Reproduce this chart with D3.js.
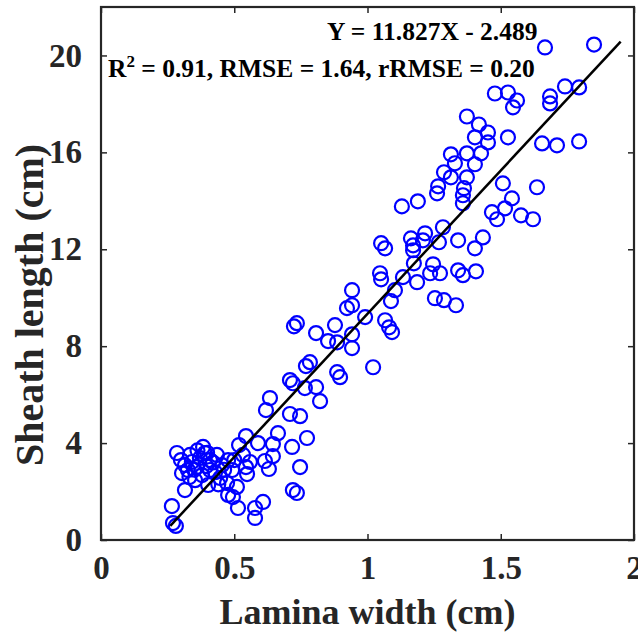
<!DOCTYPE html>
<html><head><meta charset="utf-8">
<script src="https://cdn.jsdelivr.net/npm/d3@7"></script>
<style>
html,body{margin:0;padding:0;background:#fff;}
text{font-family:"Liberation Serif","Times New Roman",serif;font-weight:bold;}
</style></head>
<body>
<svg id="chart" width="638" height="637"></svg>
<script>
// Lamina width (cm)
const laminaWidth = [
1.666,1.850,1.478,1.527,1.561,1.546,1.685,1.685,1.741,1.794,
1.373,1.418,1.452,1.403,1.452,1.527,1.655,1.711,1.794,1.313,
1.373,1.426,1.328,1.403,1.287,1.313,1.373,1.265,1.261,1.362,
1.358,1.358,1.129,1.189,1.508,1.636,1.542,1.516,1.467,1.486,
1.576,1.621,1.283,1.216,1.208,1.163,1.171,1.171,1.051,1.066,
1.268,1.340,1.433,1.403,1.174,1.246,1.235,1.272,1.340,1.358,
1.407,1.133,1.186,1.047,1.051,1.103,1.088,1.253,1.287,1.332,
1.066,1.081,1.092,0.991,0.942,0.923,0.942,0.735,0.724,0.807,
0.878,0.852,0.886,0.942,0.942,1.021,0.784,0.769,0.886,0.897,
0.709,0.720,0.765,0.807,0.634,0.822,0.619,0.709,0.747,0.664,
0.773,0.717,0.645,0.589,0.544,0.518,0.615,0.645,0.630,0.747,
0.544,0.548,0.720,0.735,0.285,0.383,0.390,0.435,0.315,0.341,
0.360,0.304,0.379,0.409,0.353,0.402,0.447,0.492,0.473,0.510,
0.315,0.266,0.270,0.281,0.477,0.495,0.514,0.578,0.608,0.578,
0.334,0.409,0.454,0.428,0.326,0.371,0.533,0.559,0.477,
0.300,0.362,0.420,0.462,0.398,0.332,0.440,0.500,0.350,0.395
];
// Sheath length (cm)
const sheathLength = [
20.33,20.45,18.43,18.47,18.14,17.86,18.31,18.02,18.72,18.68,
17.48,17.15,16.82,16.62,16.41,16.62,16.37,16.29,16.45,15.92,
15.96,15.96,15.55,15.51,15.18,14.97,14.97,14.60,14.31,14.52,
14.23,13.90,13.77,13.98,14.72,14.56,14.10,13.69,13.53,13.24,
13.40,13.24,12.91,12.66,12.37,12.45,12.16,11.96,12.25,12.04,
12.29,12.37,12.49,12.04,11.42,11.38,11.01,11.01,11.13,10.93,
11.09,10.85,10.64,11.01,10.76,10.31,9.86,9.98,9.90,9.69,
9.07,8.78,8.58,9.20,10.31,9.57,9.69,8.95,8.82,8.54,
8.87,8.21,8.16,8.49,7.92,7.13,7.34,7.18,6.93,6.72,
6.60,6.47,6.27,6.31,5.86,5.73,5.36,5.20,5.11,4.41,
4.21,3.84,3.96,4.00,4.29,3.92,3.26,3.46,2.93,3.01,
3.01,2.72,2.06,1.94,3.59,3.84,3.59,3.51,3.09,3.22,
3.01,2.76,2.68,2.89,2.47,2.27,2.56,2.89,2.35,2.19,
2.06,1.40,0.70,0.58,1.86,1.77,1.32,1.32,1.57,0.91,
3.51,3.30,3.09,2.80,2.89,3.38,3.51,3.22,3.30,
3.30,3.70,3.20,2.90,3.60,2.60,2.30,3.30,2.90,3.05
];
const xTicks = [0, 0.5, 1, 1.5, 2];
const yTicks = [0, 4, 8, 12, 16, 20];
const fitSlope = 11.827, fitIntercept = -2.489;
const fitRange = [0.26, 1.95];
const xLabel = "Lamina width (cm)";
const yLabel = "Sheath length (cm)";
const eqText = "Y = 11.827X - 2.489";
const statsText = ["R", "2", " = 0.91, RMSE = 1.64, rRMSE = 0.20"];

const svg = d3.select("#chart");
const m = {left:101, right:634, top:7, bottom:540};
const x = d3.scaleLinear().domain([0,2]).range([m.left, m.right]);
const y = d3.scaleLinear().domain([0,22]).range([m.bottom, m.top]);
const axisColor = "#262626";
const fmt = d => String(d);

function styleAxis(g, showLabels){
  g.select(".domain").remove();
  g.selectAll(".tick line").attr("stroke", axisColor).attr("stroke-width", 1.5);
  g.selectAll(".tick text").attr("fill", axisColor).style("font-size","33px");
  if(!showLabels) g.selectAll(".tick text").remove();
}

// bottom
svg.append("g").attr("transform",`translate(0,${m.bottom})`)
  .call(d3.axisBottom(x).tickValues(xTicks).tickFormat(fmt).tickSizeInner(-6).tickSizeOuter(0).tickPadding(16))
  .call(g=>styleAxis(g,true));
// top
svg.append("g").attr("transform",`translate(0,${m.top})`)
  .call(d3.axisTop(x).tickValues(xTicks).tickSizeInner(-6).tickSizeOuter(0))
  .call(g=>styleAxis(g,false));
// left
svg.append("g").attr("transform",`translate(${m.left},0)`)
  .call(d3.axisLeft(y).tickValues(yTicks).tickFormat(fmt).tickSizeInner(-6).tickSizeOuter(0).tickPadding(19))
  .call(g=>styleAxis(g,true));
// right
svg.append("g").attr("transform",`translate(${m.right},0)`)
  .call(d3.axisRight(y).tickValues(yTicks).tickSizeInner(-6).tickSizeOuter(0))
  .call(g=>styleAxis(g,false));

// box
svg.append("rect").attr("x", m.left).attr("y", m.top)
  .attr("width", m.right-m.left).attr("height", m.bottom-m.top)
  .attr("fill","none").attr("stroke", axisColor).attr("stroke-width", 2.2);

// points
const pts = laminaWidth.map((v,i)=>({x:v, y:sheathLength[i]}));
svg.append("g").selectAll("circle").data(pts).join("circle")
  .attr("cx", d=>x(d.x)).attr("cy", d=>y(d.y)).attr("r", 7)
  .attr("fill","none").attr("stroke","#0000ff").attr("stroke-width", 2.2);

// fit line
const line = d3.line().x(d=>x(d)).y(d=>y(fitSlope*d+fitIntercept));
svg.append("path").datum(fitRange).attr("d", line)
  .attr("stroke","#000").attr("stroke-width",2.5).attr("fill","none");

// annotations
svg.append("text").attr("x",327).attr("y",40).attr("fill","#000")
  .style("font-size","25.5px").text(eqText);
const st = svg.append("text").attr("x",108).attr("y",77).attr("fill","#000").style("font-size","25.5px");
st.append("tspan").text(statsText[0]);
st.append("tspan").attr("dy",-10).style("font-size","17px").text(statsText[1]);
st.append("tspan").attr("dy",10).text(statsText[2]);

// axis titles
svg.append("text").attr("x",(m.left+m.right)/2).attr("y",624).attr("text-anchor","middle")
  .attr("fill",axisColor).style("font-size","36px").text(xLabel);
svg.append("text").attr("transform",`translate(43,305) rotate(-90)`)
  .attr("text-anchor","middle").attr("fill",axisColor).style("font-size","40px").text(yLabel);
</script>
</body></html>
